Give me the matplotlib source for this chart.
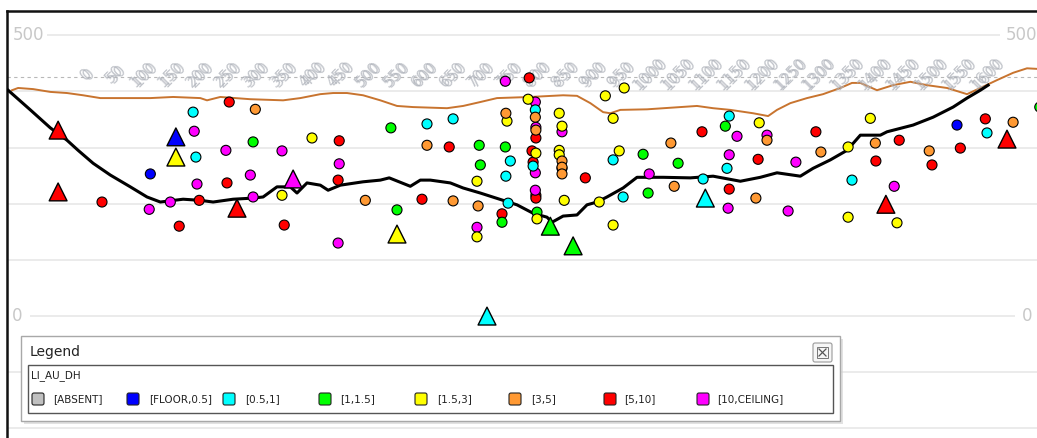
import matplotlib.pyplot as plt
from matplotlib.patches import Rectangle, FancyBboxPatch

# legend classes for LI_AU_DH
categories = ['[ABSENT]', '[FLOOR,0.5]', '[0.5,1]', '[1,1.5]', '[1.5,3]',
              '[3,5]', '[5,10]', '[10,CEILING]']
class_colors = ['#c0c0c0', '#0000ff', '#00ffff', '#00ff00', '#ffff00',
                '#ff9933', '#ff0000', '#ff00ff']

# lower (black) profile: distance along section, elevation
profile_dist = [-135, -95, -59, -29, -9, 18, 49, 85, 115, 139, 180, 211, 234, 270,
                306, 324, 349, 373, 385, 403, 427, 441, 463, 504, 535, 551, 589,
                607, 625, 661, 684, 715, 756, 781, 810, 835, 844, 864, 889, 907,
                925, 943, 972, 997, 1044, 1093, 1134, 1183, 1219, 1249, 1291,
                1314, 1345, 1375, 1399, 1435, 1447, 1494, 1530, 1566, 1591, 1615,
                1629]
profile_elev = [402, 367, 335, 313, 295, 272, 251, 230, 212, 203, 208, 206, 203, 208,
                210, 212, 230, 230, 219, 237, 233, 224, 233, 239, 242, 246, 231,
                242, 242, 237, 228, 219, 206, 198, 183, 176, 167, 178, 180, 198,
                203, 212, 228, 247, 247, 246, 249, 240, 247, 255, 249,
                263, 278, 295, 322, 322, 328, 340, 354, 372, 388, 402,
                411]

# upper (brown) surface
upper_dist = [-128, -117, -90, -59, -29, 0, 31, 61, 121, 162, 211, 223, 247, 301,
              360, 391, 427, 450, 475, 504, 535, 565, 594, 655, 684, 715, 745,
              805, 864, 889, 913, 936, 949, 967, 1015, 1075, 1105, 1134, 1165,
              1206, 1233, 1249, 1273, 1303, 1332, 1363, 1384, 1399, 1429, 1458,
              1489, 1519, 1555, 1591, 1615, 1645, 1674, 1699, 1717]
upper_elev = [402, 406, 404, 399, 397, 393, 388, 388, 388, 390, 388, 384, 390, 386,
              384, 388, 395, 397, 397, 393, 384, 374, 372, 370, 374, 381, 388,
              390, 393, 392, 379, 363, 361, 367, 368, 372, 374, 370, 367,
              361, 356, 367, 379, 388, 395, 406, 415, 415, 402, 411,
              417, 411, 406, 395, 406, 420, 433, 441, 440]

# sample points (circles)
dot_dist = [
    # red
    263, 461, 259, 459, 34, 209, 173, 362, 803, 815, 659, 808, 810, 862, 904,
    610, 815, 815, 754, 1114, 1319, 1624, 1215, 1469, 1579, 1427, 1528, 1163,
    # magenta
    200, 257, 358, 205, 301, 119, 157, 306, 461, 459, 760, 814, 815, 862, 814,
    814, 1019, 709, 1177, 1231, 1163, 1283, 1161, 1269, 1460,
    # cyan
    198, 203, 814, 619, 666, 769, 954, 810, 761, 765, 972, 1163, 1627, 1159,
    1116, 1384,
    # blue
    121, 1573,
    # green
    306, 554, 713, 760, 1008, 715, 1071, 565, 754, 817, 1017, 1156, 1722,
    # yellow
    412, 358, 940, 974, 801, 763, 857, 954, 862, 815, 857, 857, 965, 709, 866,
    929, 817, 954, 709, 1217, 1417, 1377, 1377, 1465,
    # orange
    310, 761, 814, 815, 619, 1058, 862, 862, 862, 1064, 508, 666, 711, 1231,
    1674, 1328, 1426, 1523, 1211,
]
dot_elev = [
    381, 312, 237, 242, 203, 206, 160, 162, 424, 317, 301, 294, 274, 263, 246,
    208, 215, 210, 182, 328, 328, 351, 279, 313, 299, 276, 269, 226,
    329, 295, 294, 235, 251, 190, 203, 212, 271, 130, 418, 381, 336, 328, 255,
    224, 253, 158, 320, 322, 287, 274, 192, 187, 231,
    363, 283, 367, 342, 351, 276, 278, 267, 249, 201, 212, 356, 326, 263,
    244, 242,
    253, 340,
    310, 335, 304, 301, 288, 269, 272, 189, 167, 185, 219, 338, 372,
    317, 215, 392, 406, 386, 347, 361, 352, 338, 290, 295, 287, 294, 240, 206,
    203, 173, 162, 141, 344, 352, 301, 176, 166,
    368, 361, 354, 331, 304, 308, 276, 265, 253, 231, 206, 205, 196, 313,
    345, 292, 308, 294, 210,
]
dot_class = [6] * 28 + [7] * 25 + [2] * 16 + [1] * 2 + [3] * 13 + [4] * 24 + [5] * 19

# drill collars (triangles)
tri_dist = [-45, -45, 277, 1445, 1663, 378, 1120, 727, 167, 841, 882, 167, 565]
tri_elev = [331, 221, 192, 199, 315, 244, 210, 0, 319, 160, 125, 283, 146]
tri_class = [6, 6, 6, 6, 6, 7, 2, 2, 1, 3, 3, 4, 4]

station_ticks = list(range(0, 1601, 50))
grid_levels = [500, 400, 300, 200, 100, 0, -100, -200]

fig = plt.figure(figsize=(10.37, 4.38), dpi=100)
ax = fig.add_axes([7 / 1037, 0, 1030 / 1037, 427 / 438])
ax.set_xlim(-137, 1717)
ax.set_ylim(-217, 543)
ax.set_xticks([])
ax.set_yticks([])
for side in ['right', 'bottom']:
    ax.spines[side].set_visible(False)
for side in ['left', 'top']:
    ax.spines[side].set_color('#111111')
    ax.spines[side].set_linewidth(1.8)

# horizontal grid, broken where the 500 / 0 labels sit
for lvl in grid_levels:
    if lvl == 500:
        x0, x1 = -65, 1651
    elif lvl == 0:
        x0, x1 = -95, 1678
    else:
        x0, x1 = -137, 1717
    ax.hlines(lvl, x0, x1, color='#e6e6e6', lw=1.1, zorder=0)

label_kw = dict(color='#c8c8c8', fontsize=12, va='center')
ax.text(-127, 500, '500', ha='left', **label_kw)
ax.text(1660, 500, '500', ha='left', **label_kw)
ax.text(-129, 0, '0', ha='left', **label_kw)
ax.text(1690, 0, '0', ha='left', **label_kw)

# station line along the top with doubled rotated labels
# (the station labels run on a slightly stretched chainage)
ax.axhline(425, color='#b8b8b8', lw=0.8, ls=(0, (3, 3)), zorder=1)
for t in station_ticks:
    xs = 8 + 1.0125 * t
    for dx in (-2.5, 2.5):
        ax.text(xs + dx, 430, str(t), rotation=45, rotation_mode='anchor',
                ha='center', va='center', fontsize=11, color='#aeb2ba', alpha=0.75)

ax.plot(upper_dist, upper_elev, color='#c8742f', lw=1.4, zorder=2)
ax.plot(profile_dist, profile_elev, color='black', lw=2.2, zorder=3)

ax.scatter(dot_dist, dot_elev, c=[class_colors[k] for k in dot_class], s=52,
           edgecolors='black', linewidths=0.8, zorder=4, clip_on=True)
ax.scatter(tri_dist, tri_elev, c=[class_colors[k] for k in tri_class], s=165,
           marker='^', edgecolors='black', linewidths=1.0, zorder=5)

# legend window (pixel units inside)
lax = fig.add_axes([21 / 1037, (438 - 421) / 438, 819 / 1037, 85 / 438])
lax.set_xlim(0, 819)
lax.set_ylim(85, 0)
lax.axis('off')
lax.add_patch(Rectangle((3, 3), 819, 85, fc='#d0d0d0', ec='none', alpha=0.6,
                        clip_on=False, zorder=0))
lax.add_patch(Rectangle((0, 0), 819, 85, fc='white', ec='#a8a8a8', lw=1,
                        clip_on=False, zorder=1))
lax.text(9, 16, 'Legend', fontsize=10, color='#222222', va='center', zorder=3)
lax.add_patch(FancyBboxPatch((792, 7), 19, 19, boxstyle='round,pad=0,rounding_size=2',
                             fc='#f6f6f6', ec='#9a9a9a', lw=0.8, zorder=3))
lax.add_patch(Rectangle((796, 11), 11, 11, fc='none', ec='#777777', lw=0.7, zorder=4))
lax.plot([798, 805], [13, 20], color='#555555', lw=0.9, zorder=5)
lax.plot([798, 805], [20, 13], color='#555555', lw=0.9, zorder=5)
lax.add_patch(Rectangle((7, 29), 805, 48, fc='white', ec='#555555', lw=1,
                        clip_on=False, zorder=2))
lax.text(10, 40, 'LI_AU_DH', fontsize=7.5, color='#222222', va='center', zorder=3)

sq_left = [11, 106, 202, 298, 394, 488, 583, 676]
txt_left = [32, 128, 224, 319, 416, 510, 603, 696]
for k, name in enumerate(categories):
    lax.add_patch(FancyBboxPatch((sq_left[k], 57), 12, 12,
                                 boxstyle='round,pad=0,rounding_size=2',
                                 fc=class_colors[k], ec='#222222', lw=0.8, zorder=3))
    lax.text(txt_left[k], 63, name, fontsize=7.5, color='#222222', va='center', zorder=3)

fig.savefig('out.png', dpi=100)
